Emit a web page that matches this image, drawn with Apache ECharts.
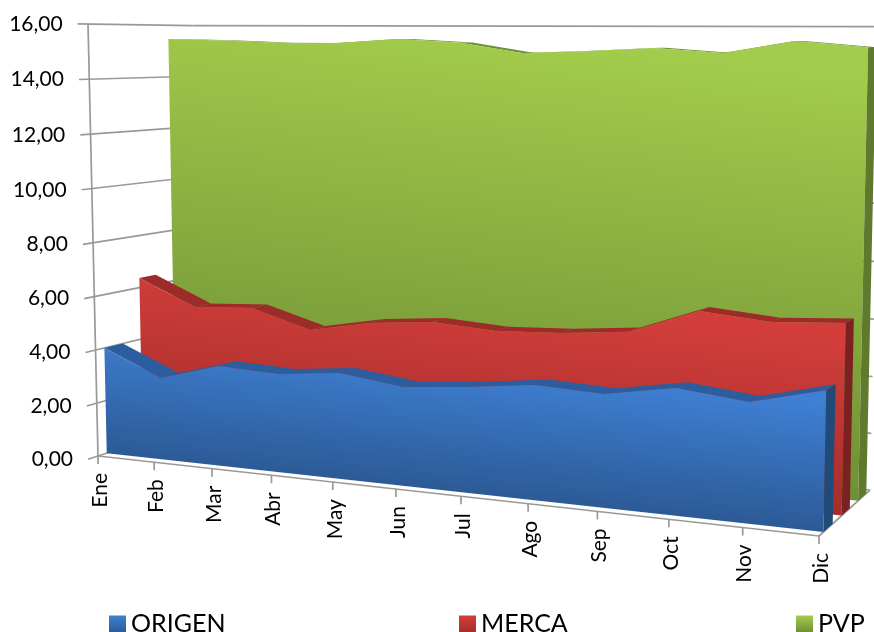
<!DOCTYPE html>
<html>
<head>
<meta charset="utf-8">
<style>html,body{margin:0;padding:0;background:#fff}#chart{width:874px;height:632px}</style>
<script src="https://cdn.jsdelivr.net/npm/echarts@6/dist/echarts.min.js"></script>
</head>
<body>
<div id="chart"></div>
<script>
var months = ['Ene','Feb','Mar','Abr','May','Jun','Jul','Ago','Sep','Oct','Nov','Dic'];
var yTicks = [0,2,4,6,8,10,12,14,16];
var origen = [4.00,3.05,3.68,3.58,3.80,3.50,3.69,3.96,3.85,4.25,3.99,4.57];
var merca = [6.37,5.40,5.51,4.85,5.27,5.47,5.31,5.40,5.61,6.48,6.27,6.40];
var pvp = [15.47,15.42,15.35,15.35,15.51,15.39,15.03,15.12,15.24,15.08,15.50,15.31];

var FONT = 'Lato';
var AXIS_COLOR = '#999999';

// the plot is a box seen in perspective: u along months, v up the value axis, d into the page
var g1 = -0.155, g2 = -0.025, g3 = 0.087;
var a0 = [98,456];
var a1 = [819*(1+g1)-98, 536*(1+g1)-456];
var a2 = [88*(1+g2)-98, 24*(1+g2)-456];
var a3 = [870*(1+g1+g3)-98-a1[0], 490*(1+g1+g3)-456-a1[1]];

function project(u, v, d) {
    var w = 1 + g1*u + g2*v + g3*d;
    return [
        (a0[0] + a1[0]*u + a2[0]*v + a3[0]*d) / w,
        (a0[1] + a1[1]*u + a2[1]*v + a3[1]*d) / w
    ];
}

// category index + value go through the real axes, then into the box
function place(api, cs, i, value, d) {
    var p = api.coord([i, value]);
    return project((p[0]-cs.x)/cs.width, (cs.y+cs.height-p[1])/cs.height, d);
}

function gradient(colors, top, bottom) {
    // tilted a little so the bands follow the slope of the floor
    var len = bottom[1]-top[1];
    return new echarts.graphic.LinearGradient(top[0], top[1], top[0]-0.108*len, top[1]+0.994*len,
        [{offset:0,color:colors[0]},{offset:1,color:colors[1]}], true);
}

function poly(points, fill) {
    return {type:'polygon', shape:{points:points}, style:{fill:fill}, silent:true};
}

function areaSeries(name, values, d1, d2, z, front, topColor, sideColor) {
    return {
        name: name,
        type: 'custom',
        coordinateSystem: 'cartesian2d',
        z: z,
        clip: false,
        itemStyle: {color: front[0]},
        encode: {x:0, y:1},
        data: values.map(function (v, i) { return [i, v]; }),
        renderItem: function (params, api) {
            if (params.dataIndex !== values.length-1) return;
            var cs = params.coordSys, kids = [];
            var n = values.length;
            for (var i = 0; i < n-1; i++) {
                kids.push(poly([
                    place(api,cs,i,values[i],d1), place(api,cs,i+1,values[i+1],d1),
                    place(api,cs,i+1,values[i+1],d2), place(api,cs,i,values[i],d2)
                ], topColor));
            }
            var pts = values.map(function (v, i) { return place(api,cs,i,v,d1); });
            var peak = Math.max.apply(null, values);
            pts.push(place(api,cs,n-1,0,d1));
            pts.push(place(api,cs,0,0,d1));
            var mid = Math.round((n-1)/2);
            kids.push(poly(pts, gradient(front, place(api,cs,mid,peak,d1), place(api,cs,mid,0,d1))));
            kids.push(poly([
                place(api,cs,n-1,values[n-1],d1), place(api,cs,n-1,values[n-1],d2),
                place(api,cs,n-1,0,d2), place(api,cs,n-1,0,d1)
            ], sideColor));
            return {type:'group', children:kids};
        }
    };
}

function line(a, b) {
    return {type:'line', shape:{x1:a[0],y1:a[1],x2:b[0],y2:b[1]},
        style:{stroke:AXIS_COLOR,lineWidth:1.7}, silent:true};
}

function frameSeries() {
    return {
        type: 'custom',
        coordinateSystem: 'cartesian2d',
        z: 1,
        clip: false,
        data: [[0,0]],
        renderItem: function (params, api) {
            var cs = params.coordSys, kids = [], last = months.length-1;
            yTicks.forEach(function (t) {
                var tick = place(api,cs,0,t,-0.09);
                kids.push(line(tick, place(api,cs,0,t,1)));
                kids.push(line(place(api,cs,0,t,1), place(api,cs,last,t,1)));
                kids.push({type:'text', x:tick[0]-15, y:tick[1], silent:true, style:{
                    text:t.toFixed(2).replace('.',','), fill:'#000', fontFamily:FONT, fontSize:21,
                    textAlign:'right', textVerticalAlign:'middle'
                }});
            });
            kids.push(line(place(api,cs,0,0,0), place(api,cs,0,16,0)));
            kids.push(line(place(api,cs,0,0,0), place(api,cs,last,0,0)));
            kids.push(line(place(api,cs,last,0,0), place(api,cs,last,0,1)));
            months.forEach(function (m, i) {
                var p = place(api,cs,i,0,0);
                kids.push(line(p, [p[0], p[1]+8]));
                kids.push({type:'text', x:p[0]+2, y:p[1]+17, rotation:Math.PI/2, silent:true, style:{
                    text:m, fill:'#000', fontFamily:FONT, fontSize:21,
                    textAlign:'right', textVerticalAlign:'middle'
                }});
            });
            return {type:'group', children:kids};
        }
    };
}

function legendAt(name, left, colors) {
    return {
        left: left, top: 610, padding: 0,
        itemWidth: 17, itemHeight: 17, itemGap: 0,
        textStyle: {fontFamily:FONT, fontSize:25, color:'#000', lineHeight:28},
        data: [{name:name, icon:'rect', itemStyle:{color:new echarts.graphic.LinearGradient(0,0,0,1,
            [{offset:0,color:colors[0]},{offset:1,color:colors[1]}])}}]
    };
}

var blueFront = ['#3f80d4','#2c5a96'];
var redFront = ['#d33e3b','#a32d2b'];
var greenFront = ['#a2cc4b','#6f8f35'];

var chart = echarts.init(document.getElementById('chart'));
chart.setOption({
    animation: false,
    backgroundColor: '#fff',
    grid: {left:98, top:24, width:721, height:432},
    xAxis: {type:'category', boundaryGap:false, data:months, show:false},
    yAxis: {type:'value', min:0, max:16, interval:2, show:false},
    legend: [
        legendAt('ORIGEN', 109, blueFront),
        legendAt('MERCA', 459, redFront),
        legendAt('PVP', 796, greenFront)
    ],
    series: [
        frameSeries(),
        areaSeries('PVP', pvp, 0.75, 0.92, 2, greenFront, '#6f8f35', '#5f7a2c'),
        areaSeries('MERCA', merca, 0.42, 0.58, 3, redFront, '#9c2b2a', '#7a2221'),
        areaSeries('ORIGEN', origen, 0.08, 0.25, 4, blueFront, '#2c5d9e', '#204a78')
    ]
});
</script>
</body>
</html>
